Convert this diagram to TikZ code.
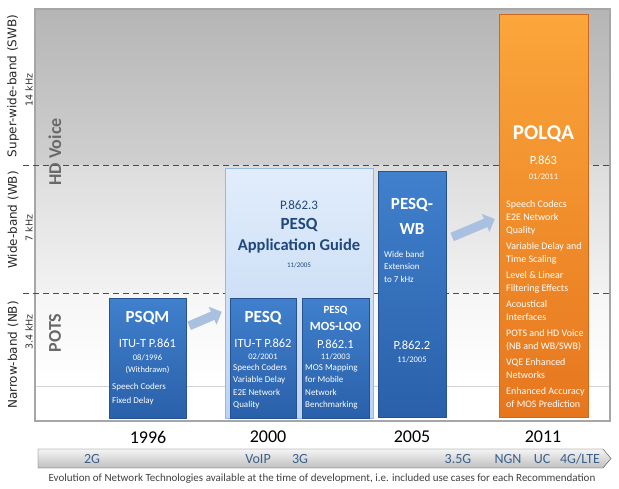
\documentclass[tikz,border=0pt]{standalone}
\usepackage{fontspec}
\setmainfont{Carlito}
\newfontfamily\bandfont{DejaVu Sans}
\usetikzlibrary{arrows.meta,calc,positioning}
\definecolor{boxtop}{RGB}{64,128,204}
\definecolor{boxbot}{RGB}{42,96,170}
\definecolor{boxedge}{RGB}{38,82,146}
\definecolor{guidetop}{RGB}{226,237,251}
\definecolor{guidebot}{RGB}{188,211,242}
\definecolor{guideedge}{RGB}{150,184,228}
\definecolor{guidetext}{RGB}{31,73,125}
\definecolor{orangetop}{RGB}{251,166,58}
\definecolor{orangebot}{RGB}{230,118,30}
\definecolor{orangeedge}{RGB}{205,105,30}
\definecolor{arrowblue}{RGB}{170,192,224}
\definecolor{techblue}{RGB}{58,96,138}
\definecolor{zonegray}{RGB}{105,105,105}

\begin{document}
\begin{tikzpicture}[x=1pt,y=-1pt]
\tikzset{
  bluebox/.style={draw=boxedge, top color=boxtop, bottom color=boxbot, inner sep=0pt},
  guidebox/.style={draw=guideedge, line width=1pt, top color=guidetop, bottom color=guidebot, inner sep=0pt},
  orangebox/.style={draw=orangeedge, top color=orangetop, bottom color=orangebot, inner sep=0pt},
  ttl/.style={text=white, inner sep=0pt, font=\bfseries\fontsize{17}{17}\selectfont},
  rec/.style={text=white, inner sep=0pt, font=\fontsize{12.5}{12.5}\selectfont},
  when/.style={text=white, inner sep=0pt, font=\fontsize{8.5}{8.5}\selectfont},
  items/.style={text=white, inner sep=0pt, align=left, anchor=north west, font=\fontsize{9}{12.5}\selectfont},
  bandlbl/.style={rotate=90, inner sep=0pt, text=black!85, font=\bandfont\fontsize{12}{12}\selectfont},
  bandsub/.style={rotate=90, inner sep=0pt, text=black!80, font=\bandfont\fontsize{9.5}{9.5}\selectfont},
  zone/.style={rotate=90, inner sep=0pt, text=zonegray, font=\bfseries\fontsize{18}{18}\selectfont},
  year/.style={inner sep=0pt, font=\fontsize{18}{18}\selectfont},
  tech/.style={inner sep=0pt, text=techblue, font=\fontsize{14}{14}\selectfont},
  fatarrow/.style={line width=9pt, draw=arrowblue, -{Triangle[length=10pt,width=19pt]}}
}
\useasboundingbox (0,0) rectangle (619,488);

% bands behind the boxes
\shade[top color=gray!58, bottom color=gray!37] (35,9) rectangle (610,165);
\shade[top color=gray!27, bottom color=gray!10] (35,165) rectangle (610,293);
\shade[top color=gray!7, bottom color=white] (35,293) rectangle (610,386);
\draw[gray!35] (35,386) -- (610,386);
\draw[gray!70, line width=1.2pt] (35,9) rectangle (610,421);
\foreach \y in {165,293}
  \draw[gray!60!black, line width=0.8pt, dash pattern=on 6pt off 4pt] (23,\y) -- (610,\y);

\node[bandlbl] (swb) at (13,86) {Super-wide-band (SWB)};
\node[bandsub] at (29,90) {14 kHz};
\node[bandlbl] (wb) at (13,220) {Wide-band (WB)};
\node[bandsub] at (29,228) {7 kHz};
\node[bandlbl] (nb) at (13,355) {Narrow-band (NB)};
\node[bandsub] at (29,332) {3.4 kHz};
\node[zone] (hd) at (55,152) {HD Voice};
\node[zone] (pots) at (55,333) {POTS};

% PSQM
\node[bluebox, minimum width=77pt, minimum height=120pt] (psqm) at (147.5,358) {};
\node[ttl] at (147.5,318) {PSQM};
\node[rec] at (147.5,343) {ITU-T P.861};
\node[when] at (147.5,358) {08/1996};
\node[when] at (147.5,370) {(Withdrawn)};
\node[items, font=\fontsize{9}{14}\selectfont] at (112,383) {Speech Coders\\Fixed Delay};

% application guide
\node[guidebox, minimum width=148pt, minimum height=250pt] (guide) at (299,293) {};
\node[inner sep=0pt, text=guidetext, font=\fontsize{13}{13}\selectfont] at (299,205) {P.862.3};
\node[inner sep=0pt, text=guidetext, font=\bfseries\fontsize{17}{17}\selectfont] at (299,225) {PESQ};
\node[inner sep=0pt, text=guidetext, font=\bfseries\fontsize{16.5}{16.5}\selectfont] at (299,246) {Application Guide};
\node[inner sep=0pt, text=guidetext, font=\fontsize{7}{7}\selectfont] at (299,265) {11/2005};

% PESQ
\node[bluebox, minimum width=66pt, minimum height=120pt] (pesq) at (263,358) {};
\node[ttl] at (263,318) {PESQ};
\node[rec] at (263,343) {ITU-T P.862};
\node[when] at (263,357) {02/2001};
\node[items] at (233,364) {Speech Coders\\Variable Delay\\E2E Network\\Quality};

% PESQ MOS-LQO
\node[bluebox, minimum width=67pt, minimum height=120pt] (moslqo) at (335.5,358) {};
\node[text=white, inner sep=0pt, font=\bfseries\fontsize{11}{11}\selectfont] at (335.5,311) {PESQ};
\node[text=white, inner sep=0pt, font=\bfseries\fontsize{12.5}{12.5}\selectfont] at (335.5,327) {MOS-LQO};
\node[rec] at (335.5,344) {P.862.1};
\node[when] at (335.5,357) {11/2003};
\node[items] at (305,364) {MOS Mapping\\for Mobile\\Network\\Benchmarking};

% PESQ-WB
\node[bluebox, minimum width=68pt, minimum height=246pt] (pesqwb) at (412,294) {};
\node[ttl] at (412,205) {PESQ-};
\node[ttl] at (412,229) {WB};
\node[items] at (384,251) {Wide band\\Extension\\to 7 kHz};
\node[rec] at (412,345) {P.862.2};
\node[when] at (412,360) {11/2005};

% POLQA
\node[orangebox, minimum width=89pt, minimum height=403pt] (polqa) at (543.5,215.5) {};
\node[text=white, inner sep=0pt, font=\bfseries\fontsize{21}{21}\selectfont] at (543.5,134) {POLQA};
\node[rec] at (543.5,160) {P.863};
\node[when] at (543.5,177) {01/2011};
\node[items, font=\fontsize{10}{13}\selectfont] at (506,200)
  {Speech Codecs\\E2E Network\\Quality\\[3pt]Variable Delay and\\Time Scaling\\[3pt]Level \& Linear\\Filtering Effects\\[3pt]Acoustical\\Interfaces\\[3pt]POTS and HD Voice\\(NB and WB/SWB)\\[3pt]VQE Enhanced\\Networks\\[3pt]Enhanced Accuracy\\of MOS Prediction};

% progress arrows
\draw[fatarrow] ([shift={(3pt,-28pt)}]psqm.north east) -- ([shift={(-8pt,-14pt)}]pesq.north west);
\draw[fatarrow] ([shift={(6pt,57pt)}]pesqwb.east) -- ([shift={(-4pt,-3.5pt)}]polqa.west);

% years
\node[year] (y1) at (148,437) {1996};
\node[year] (y2) at (268,437) {2000};
\node[year] (y3) at (412,437) {2005};
\node[year] (y4) at (543,437) {2011};

% network timeline
\shade[top color=gray!8, bottom color=gray!50, draw=gray!55!black] (38,449) -- (603,449) -- (611,458.5) -- (603,468) -- (38,468) -- cycle;
\foreach \t/\x in {2G/92,VoIP/258,3G/300,3.5G/458,NGN/508,UC/542,4G\slash LTE/580}
  \node[tech] at (\x,459) {\t};
\node[inner sep=0pt, text=black!75, font=\fontsize{11}{11}\selectfont] (cap) at (322,479)
  {Evolution of Network Technologies available at the time of development, i.e. included use cases for each Recommendation};
\end{tikzpicture}
\end{document}
